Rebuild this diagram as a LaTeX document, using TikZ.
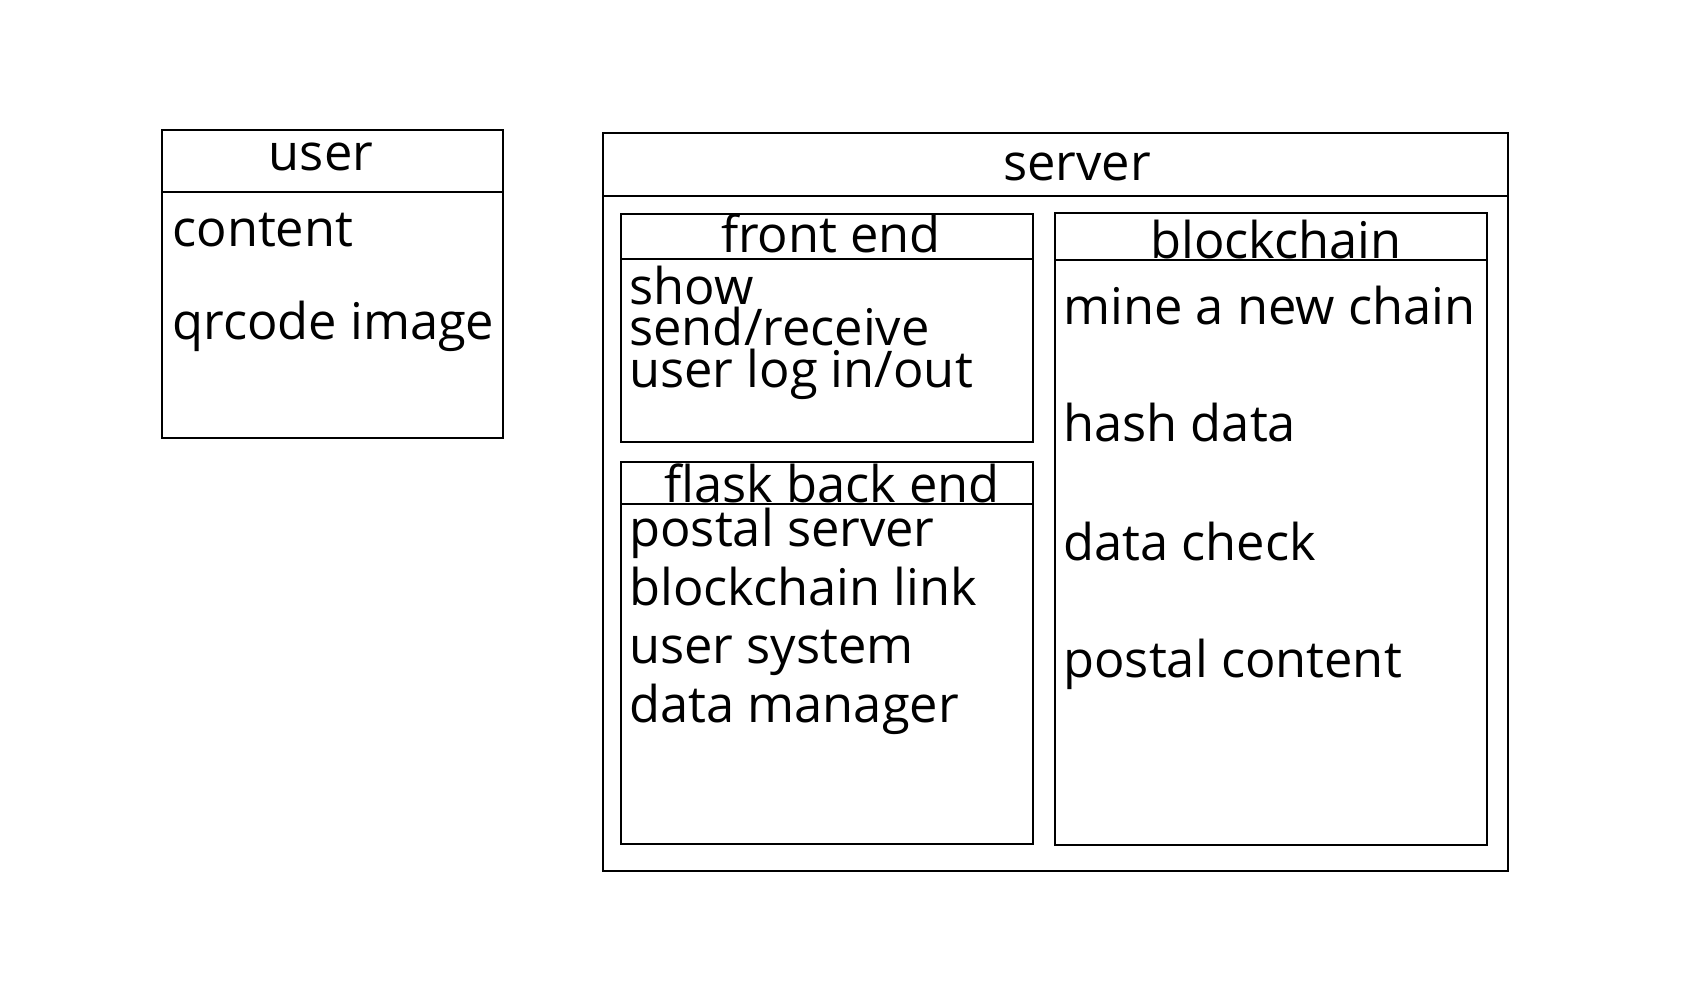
\documentclass[tikz,border=0pt]{standalone}
\usepackage{fontspec}
\setmainfont{Open Sans}
\begin{document}
\begin{tikzpicture}[x=0.5pt,y=-0.5pt,
  box/.style={draw=black,line width=1.4pt},
  sep/.style={draw=black,line width=0.6pt},
  item/.style={font=\fontsize{25.3}{30}\selectfont,inner sep=0pt,anchor=base west},
  head/.style={font=\fontsize{25.3}{30}\selectfont,inner sep=0pt,anchor=base}]
 \useasboundingbox (0,0) rectangle (1704,994);
 % user
 \draw[box] (162,130) rectangle (503,438);
 \draw[sep] (162,192) -- (503,192);
 \node[head] (user) at (321,171) {user};
 \node[item] (content) at (172,247) {content};
 \node[item] (qrcode) at (172,340) {qrcode image};
 % server
 \draw[box] (603,133) rectangle (1508,871);
 \draw[sep] (603,196) -- (1508,196);
 \node[head] (server) at (1077,181) {server};
 % front end
 \draw[box] (621,214) rectangle (1033,442);
 \draw[sep] (621,259) -- (1033,259);
 \node[head] (front) at (831,253) {front end};
 \node[item] (show) at (629,305) {show};
 \node[item] (send) at (629,346) {send/receive};
 \node[item] (login) at (629,388) {user log in/out};
 % flask back end
 \draw[box] (621,462) rectangle (1033,844);
 \draw[sep] (621,504) -- (1033,504);
 \node[head] (flask) at (832,503) {flask back end};
 \node[item] (postal) at (629,547) {postal server};
 \node[item] (link) at (629,605) {blockchain link};
 \node[item] (usersys) at (629,663) {user system};
 \node[item] (manager) at (629,722) {data manager};
 % blockchain
 \draw[box] (1055,213) rectangle (1487,845);
 \draw[sep] (1055,260) -- (1487,260);
 \node[head] (chain) at (1276,259) {blockchain};
 \node[item] (mine) at (1063,325) {mine a new chain};
 \node[item] (hash) at (1063,442) {hash data};
 \node[item] (check) at (1063,560) {data check};
 \node[item] (pcontent) at (1063,677) {postal content};
\end{tikzpicture}
\end{document}
